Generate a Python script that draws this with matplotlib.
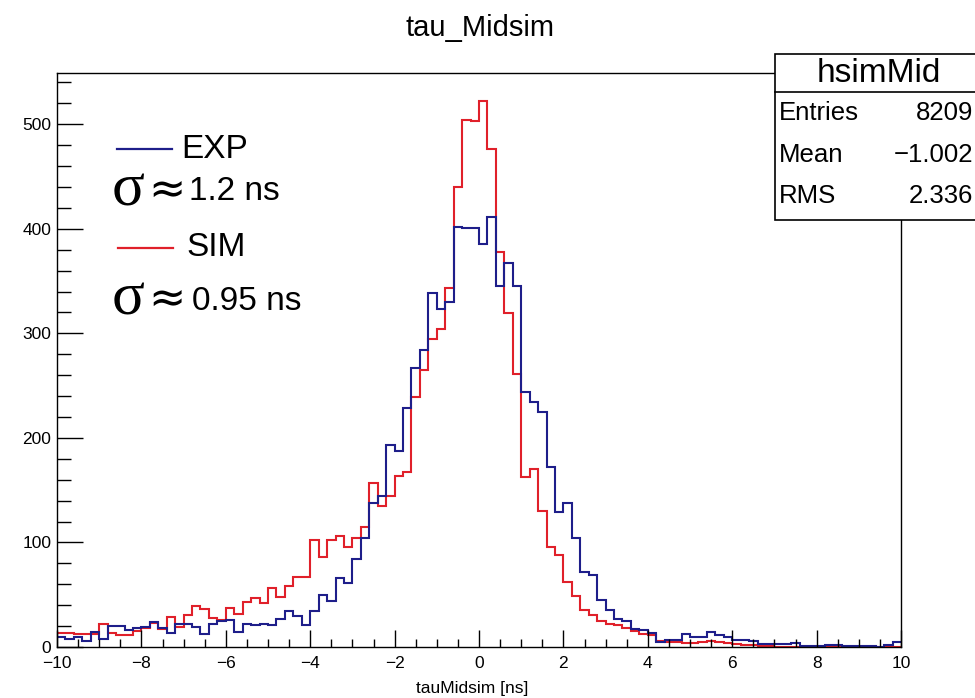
import numpy as np
import matplotlib.pyplot as plt
from matplotlib.patches import Rectangle
from matplotlib.lines import Line2D
from matplotlib.ticker import MultipleLocator

plt.rcParams['font.family'] = ['Liberation Sans', 'DejaVu Sans']

# 100 bins, -10 .. 10 ns
bin_edges = np.linspace(-10, 10, 101)

# SIM (red) counts per bin
sim_counts = [13, 13, 12, 12, 12, 22, 13, 11, 11, 15,
              18, 23, 17, 29, 19, 31, 39, 36, 28, 26,
              37, 32, 43, 47, 42, 56, 48, 58, 67, 67,
              102, 86, 102, 106, 96, 104, 115, 157, 135, 144,
              164, 167, 239, 265, 295, 304, 343, 440, 504, 503,
              522, 476, 378, 319, 261, 163, 170, 130, 96, 88,
              62, 49, 35, 31, 25, 22, 21, 18, 15, 12,
              11, 6, 5, 5, 4, 4, 5, 6, 5, 4,
              3, 2, 2, 1, 1, 0, 0, 0, 0, 0,
              0, 0, 0, 0, 0, 0, 0, 0, 0, 0]

# EXP (blue) counts per bin
exp_counts = [10, 8, 10, 6, 14, 8, 20, 20, 16, 18,
              19, 24, 18, 13, 22, 22, 19, 12, 22, 25,
              26, 14, 22, 21, 22, 21, 27, 34, 30, 21,
              34, 50, 44, 66, 61, 84, 104, 138, 144, 193,
              187, 229, 267, 284, 339, 323, 330, 402, 401, 401,
              385, 411, 345, 367, 345, 244, 234, 225, 172, 129,
              138, 104, 72, 69, 45, 35, 27, 25, 17, 16,
              13, 5, 7, 7, 12, 10, 10, 14, 11, 10,
              7, 7, 6, 3, 3, 3, 3, 4, 1, 1,
              1, 2, 2, 1, 1, 1, 1, 0, 2, 5]

stat_names = ["Entries", "Mean", "RMS"]
stat_values = ["8209", "\u22121.002", "2.336"]

red = "#e0202a"
blue = "#1e1e8a"

W, H = 975, 698
def fx(px):
    return px / W
def fy(py):
    return 1 - py / H

fig = plt.figure(figsize=(9.75, 6.98), dpi=100)
ax = fig.add_axes([fx(57), fy(647), fx(901) - fx(57), fy(73) - fy(647)])

ax.stairs(sim_counts, bin_edges, color=red, lw=1.5, baseline=None)
ax.stairs(exp_counts, bin_edges, color=blue, lw=1.5, baseline=None)

ax.set_xlim(-10, 10)
ax.set_ylim(0, 549)
ax.xaxis.set_major_locator(MultipleLocator(2))
ax.xaxis.set_minor_locator(MultipleLocator(0.5))
ax.yaxis.set_major_locator(MultipleLocator(100))
ax.yaxis.set_minor_locator(MultipleLocator(20))
ax.tick_params(which='both', direction='in', top=False, right=False,
               labelsize=12.5, width=1)
ax.tick_params(axis='y', which='major', length=19, pad=4)
ax.tick_params(axis='y', which='minor', length=10)
ax.tick_params(axis='x', which='major', length=12, pad=6.5)
ax.tick_params(axis='x', which='minor', length=6)
for s in ax.spines.values():
    s.set_linewidth(1)

fig.text(fx(480), fy(28), "tau_Midsim", ha='center', va='center', fontsize=21)
fig.text(fx(472), fy(688), "tauMidsim [ns]", ha='center', va='center', fontsize=12.5)

# legend-like annotations
fig.add_artist(Line2D([fx(117), fx(172)], [fy(149), fy(149)], color=blue, lw=1.6))
fig.text(fx(181), fy(149), "EXP", ha='left', va='center', fontsize=24)
fig.text(fx(112), fy(191), "\u03c3", family='Liberation Serif', ha='left', va='center', fontsize=44)
fig.text(fx(148), fy(190), "\u2248", family='DejaVu Sans', ha='left', va='center', fontsize=32)
fig.text(fx(189), fy(192), "1.2 ns", ha='left', va='center', fontsize=24)

fig.add_artist(Line2D([fx(118), fx(173)], [fy(248), fy(248)], color=red, lw=1.6))
fig.text(fx(186), fy(248), "SIM", ha='left', va='center', fontsize=24)
fig.text(fx(112), fy(300), "\u03c3", family='Liberation Serif', ha='left', va='center', fontsize=44)
fig.text(fx(148), fy(299), "\u2248", family='DejaVu Sans', ha='left', va='center', fontsize=32)
fig.text(fx(192), fy(301), "0.95 ns", ha='left', va='center', fontsize=24)

# stats box (runs off the right edge like the original)
box = Rectangle((fx(775), fy(220)), fx(1000) - fx(775), fy(54) - fy(220),
                transform=fig.transFigure, facecolor='white', edgecolor='black',
                lw=1.2, zorder=10)
fig.add_artist(box)
fig.add_artist(Line2D([fx(775), fx(1000)], [fy(92), fy(92)], color='black', lw=1.2, zorder=11))
fig.text(fx(879), fy(73), "hsimMid", ha='center', va='center', fontsize=24, zorder=12)
row_y = [113, 155, 196]
for name, val, yy in zip(stat_names, stat_values, row_y):
    fig.text(fx(779), fy(yy), name, ha='left', va='center', fontsize=18.5, zorder=12)
    fig.text(fx(973), fy(yy), val, ha='right', va='center', fontsize=18.5, zorder=12)

fig.savefig("out.png", dpi=100)
